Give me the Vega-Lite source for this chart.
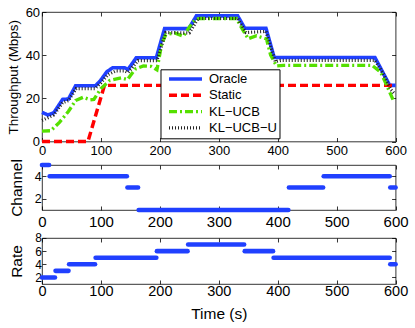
{
  "$schema": "https://vega.github.io/schema/vega-lite/v6.json",
  "padding": {"left": 5, "top": 5, "right": 0, "bottom": 0},
  "background": "white",
  "spacing": 0,
  "config": {
    "font": "Liberation Sans",
    "view": {"stroke": "#000", "strokeWidth": 0.8},
    "axis": {"grid": false, "domain": false, "tickSize": -4, "tickColor": "#000", "tickWidth": 0.8, "labelColor": "#000", "titleColor": "#000", "labelFlush": false, "labelOverlap": false, "titleFontWeight": "normal", "labelFont": "Liberation Sans", "titleFont": "Liberation Sans"},
    "legend": {"labelFont": "Liberation Sans", "labelFontSize": 13, "labelColor": "#000", "symbolSize": 1089, "clipHeight": 15.5, "rowPadding": 0.3, "symbolOffset": 4.5, "labelOffset": 5, "padding": 2, "strokeColor": "#000", "fillColor": "#fff"}
  },
  "datasets": {
    "tp": [
      {"t": 0, "v": 13.5, "s": "Oracle"}, {"t": 10, "v": 12.3, "s": "Oracle"}, {"t": 20, "v": 13.3, "s": "Oracle"}, {"t": 35, "v": 19.5, "s": "Oracle"}, {"t": 45, "v": 19.7, "s": "Oracle"}, {"t": 57, "v": 25.8, "s": "Oracle"}, {"t": 91, "v": 25.8, "s": "Oracle"}, {"t": 100, "v": 28.5, "s": "Oracle"}, {"t": 110, "v": 32.3, "s": "Oracle"}, {"t": 120, "v": 34.2, "s": "Oracle"}, {"t": 140, "v": 34.2, "s": "Oracle"}, {"t": 146, "v": 33.4, "s": "Oracle"}, {"t": 160, "v": 38.8, "s": "Oracle"}, {"t": 194, "v": 38.8, "s": "Oracle"}, {"t": 208, "v": 52.3, "s": "Oracle"}, {"t": 249, "v": 52.3, "s": "Oracle"}, {"t": 262, "v": 58.2, "s": "Oracle"}, {"t": 332, "v": 58.2, "s": "Oracle"}, {"t": 344, "v": 52.5, "s": "Oracle"}, {"t": 380, "v": 52.5, "s": "Oracle"}, {"t": 394, "v": 38.9, "s": "Oracle"}, {"t": 565, "v": 38.9, "s": "Oracle"}, {"t": 590, "v": 26, "s": "Oracle"}, {"t": 600, "v": 26, "s": "Oracle"},
      {"t": 0, "v": 0, "s": "Static"}, {"t": 78, "v": 0, "s": "Static"}, {"t": 106, "v": 26, "s": "Static"}, {"t": 600, "v": 26, "s": "Static"},
      {"t": 0, "v": 4.8, "s": "KL−UCB"}, {"t": 15, "v": 5, "s": "KL−UCB"}, {"t": 30, "v": 9, "s": "KL−UCB"}, {"t": 45, "v": 14, "s": "KL−UCB"}, {"t": 57, "v": 19, "s": "KL−UCB"}, {"t": 70, "v": 20.5, "s": "KL−UCB"}, {"t": 82, "v": 19.3, "s": "KL−UCB"}, {"t": 88, "v": 19.5, "s": "KL−UCB"}, {"t": 100, "v": 24.5, "s": "KL−UCB"}, {"t": 115, "v": 28.3, "s": "KL−UCB"}, {"t": 135, "v": 29.5, "s": "KL−UCB"}, {"t": 145, "v": 28.7, "s": "KL−UCB"}, {"t": 158, "v": 33.5, "s": "KL−UCB"}, {"t": 172, "v": 35, "s": "KL−UCB"}, {"t": 185, "v": 34.8, "s": "KL−UCB"}, {"t": 195, "v": 33.2, "s": "KL−UCB"}, {"t": 203, "v": 45, "s": "KL−UCB"}, {"t": 210, "v": 49.5, "s": "KL−UCB"}, {"t": 225, "v": 50.3, "s": "KL−UCB"}, {"t": 240, "v": 48.8, "s": "KL−UCB"}, {"t": 250, "v": 53, "s": "KL−UCB"}, {"t": 260, "v": 56.5, "s": "KL−UCB"}, {"t": 268, "v": 57, "s": "KL−UCB"}, {"t": 330, "v": 57, "s": "KL−UCB"}, {"t": 338, "v": 53, "s": "KL−UCB"}, {"t": 350, "v": 47.6, "s": "KL−UCB"}, {"t": 364, "v": 49, "s": "KL−UCB"}, {"t": 381, "v": 47.5, "s": "KL−UCB"}, {"t": 388, "v": 40, "s": "KL−UCB"}, {"t": 398, "v": 35, "s": "KL−UCB"}, {"t": 410, "v": 35.3, "s": "KL−UCB"}, {"t": 560, "v": 35.3, "s": "KL−UCB"}, {"t": 575, "v": 32, "s": "KL−UCB"}, {"t": 585, "v": 26, "s": "KL−UCB"}, {"t": 597, "v": 18.5, "s": "KL−UCB"},
      {"t": 0, "v": 9.8, "s": "KL−UCB−U"}, {"t": 10, "v": 11, "s": "KL−UCB−U"}, {"t": 20, "v": 12.3, "s": "KL−UCB−U"}, {"t": 35, "v": 18, "s": "KL−UCB−U"}, {"t": 45, "v": 19, "s": "KL−UCB−U"}, {"t": 58, "v": 24.5, "s": "KL−UCB−U"}, {"t": 90, "v": 24.5, "s": "KL−UCB−U"}, {"t": 100, "v": 27.2, "s": "KL−UCB−U"}, {"t": 112, "v": 31, "s": "KL−UCB−U"}, {"t": 125, "v": 32.7, "s": "KL−UCB−U"}, {"t": 140, "v": 32.7, "s": "KL−UCB−U"}, {"t": 146, "v": 32, "s": "KL−UCB−U"}, {"t": 163, "v": 37.5, "s": "KL−UCB−U"}, {"t": 195, "v": 37.5, "s": "KL−UCB−U"}, {"t": 210, "v": 50.5, "s": "KL−UCB−U"}, {"t": 250, "v": 50.3, "s": "KL−UCB−U"}, {"t": 265, "v": 57, "s": "KL−UCB−U"}, {"t": 332, "v": 57, "s": "KL−UCB−U"}, {"t": 346, "v": 50.5, "s": "KL−UCB−U"}, {"t": 380, "v": 51, "s": "KL−UCB−U"}, {"t": 396, "v": 37, "s": "KL−UCB−U"}, {"t": 405, "v": 37.6, "s": "KL−UCB−U"}, {"t": 565, "v": 37.6, "s": "KL−UCB−U"}, {"t": 580, "v": 31, "s": "KL−UCB−U"}, {"t": 592, "v": 24, "s": "KL−UCB−U"}, {"t": 597, "v": 22.5, "s": "KL−UCB−U"}
    ],
    "ch": [
      {"t0": 0, "t1": 12, "c": 5}, {"t0": 13, "t1": 144, "c": 4}, {"t0": 145, "t1": 163, "c": 3}, {"t0": 164, "t1": 418, "c": 1}, {"t0": 419, "t1": 477, "c": 3}, {"t0": 478, "t1": 590, "c": 4}, {"t0": 591, "t1": 600, "c": 3}
    ],
    "rt": [
      {"t0": 0, "t1": 22, "r": 2}, {"t0": 23, "t1": 45, "r": 3}, {"t0": 46, "t1": 90, "r": 4}, {"t0": 91, "t1": 194, "r": 5}, {"t0": 195, "t1": 247, "r": 6}, {"t0": 248, "t1": 343, "r": 7}, {"t0": 344, "t1": 392, "r": 6}, {"t0": 393, "t1": 590, "r": 5}, {"t0": 591, "t1": 600, "r": 4}
    ]
  },
  "vconcat": [
    {
      "width": 353.6, "height": 129.5,
      "data": {"name": "tp"},
      "layer": [
        {
          "mark": {"type": "line", "strokeCap": "butt"},
          "encoding": {
            "x": {"field": "t", "type": "quantitative", "scale": {"domain": [0, 600], "nice": false, "zero": false}, "axis": {"values": [0, 100, 200, 300, 400, 500, 600], "title": null, "labelFontSize": 13, "labelPadding": 17, "labelBaseline": "alphabetic"}},
            "y": {"field": "v", "type": "quantitative", "scale": {"domain": [0, 60], "nice": false}, "axis": {"values": [0, 20, 40, 60], "title": "Throughput (Mbps)", "titleFontSize": 13.5, "labelFontSize": 13, "labelPadding": 6.4, "titleX": -24.7, "titleBaseline": "alphabetic"}},
            "color": {"field": "s", "type": "nominal", "scale": {"domain": ["Oracle", "Static", "KL−UCB", "KL−UCB−U"], "range": ["#2040ff", "#ff0000", "#55e000", "#222222"]}, "legend": {"title": null, "orient": "none", "legendX": 118.5, "legendY": 57.3}},
            "strokeDash": {"field": "s", "type": "nominal", "scale": {"domain": ["Oracle", "Static", "KL−UCB", "KL−UCB−U"], "range": [[1, 0], [8, 4], [8, 3, 2, 3], [1, 2]]}, "legend": {"title": null, "orient": "none", "legendX": 118.5, "legendY": 57.3}},
            "strokeWidth": {"field": "s", "type": "nominal", "scale": {"domain": ["Oracle", "Static", "KL−UCB", "KL−UCB−U"], "range": [3.6, 3.2, 3.2, 1.2]}, "legend": {"title": null, "orient": "none", "legendX": 118.5, "legendY": 57.3}}
          }
        },
        {
          "mark": {"type": "line", "opacity": 0},
          "encoding": {
            "x": {"field": "t", "type": "quantitative", "scale": {"domain": [0, 600], "nice": false, "zero": false}, "axis": {"orient": "top", "values": [0, 100, 200, 300, 400, 500, 600], "labels": false, "title": null}},
            "y": {"field": "v", "type": "quantitative", "scale": {"domain": [0, 60], "nice": false}, "axis": {"orient": "right", "values": [0, 20, 40, 60], "labels": false, "title": null}}
          }
        }
      ],
      "resolve": {"axis": {"x": "independent", "y": "independent"}}
    },
    {
      "width": 353.6, "height": 45,
      "data": {"name": "ch"},
      "layer": [
        {
          "mark": {"type": "rule", "strokeWidth": 4.6, "strokeCap": "round", "color": "#2040ff"},
          "encoding": {
            "x": {"field": "t0", "type": "quantitative", "scale": {"domain": [0, 600], "nice": false, "zero": false}, "axis": {"values": [0, 100, 200, 300, 400, 500, 600], "title": null, "labelFontSize": 15, "labelPadding": 21, "labelBaseline": "alphabetic"}},
            "x2": {"field": "t1"},
            "y": {"field": "c", "type": "quantitative", "scale": {"domain": [1, 5], "nice": false, "zero": false}, "axis": {"values": [2, 4], "title": "Channel", "titleFontSize": 15.5, "labelFontSize": 12.5, "labelPadding": 4.7, "titleX": -20, "titleBaseline": "alphabetic"}}
          }
        },
        {
          "mark": {"type": "rule", "opacity": 0},
          "encoding": {
            "x": {"field": "t0", "type": "quantitative", "scale": {"domain": [0, 600], "nice": false, "zero": false}, "axis": {"orient": "top", "values": [0, 100, 200, 300, 400, 500, 600], "labels": false, "title": null}},
            "x2": {"field": "t1"},
            "y": {"field": "c", "type": "quantitative", "scale": {"domain": [1, 5], "nice": false, "zero": false}, "axis": {"orient": "right", "values": [2, 4], "labels": false, "title": null}}
          }
        }
      ],
      "resolve": {"axis": {"x": "independent", "y": "independent"}}
    },
    {
      "width": 353.6, "height": 46,
      "data": {"name": "rt"},
      "layer": [
        {
          "mark": {"type": "rule", "strokeWidth": 4.6, "strokeCap": "round", "color": "#2040ff"},
          "encoding": {
            "x": {"field": "t0", "type": "quantitative", "scale": {"domain": [0, 600], "nice": false, "zero": false}, "axis": {"values": [0, 100, 200, 300, 400, 500, 600], "title": "Time (s)", "titleFontSize": 15.5, "titleY": 35, "titleBaseline": "alphabetic", "labelFontSize": 14.5, "labelPadding": 16, "labelBaseline": "alphabetic"}},
            "x2": {"field": "t1"},
            "y": {"field": "r", "type": "quantitative", "scale": {"domain": [1, 8], "nice": false, "zero": false}, "axis": {"values": [2, 4, 6, 8], "title": "Rate", "titleFontSize": 15.5, "labelFontSize": 12, "labelPadding": 4.7, "titleX": -20, "titleBaseline": "alphabetic"}}
          }
        },
        {
          "mark": {"type": "rule", "opacity": 0},
          "encoding": {
            "x": {"field": "t0", "type": "quantitative", "scale": {"domain": [0, 600], "nice": false, "zero": false}, "axis": {"orient": "top", "values": [0, 100, 200, 300, 400, 500, 600], "labels": false, "title": null}},
            "x2": {"field": "t1"},
            "y": {"field": "r", "type": "quantitative", "scale": {"domain": [1, 8], "nice": false, "zero": false}, "axis": {"orient": "right", "values": [2, 4, 6, 8], "labels": false, "title": null}}
          }
        }
      ],
      "resolve": {"axis": {"x": "independent", "y": "independent"}}
    }
  ]
}
